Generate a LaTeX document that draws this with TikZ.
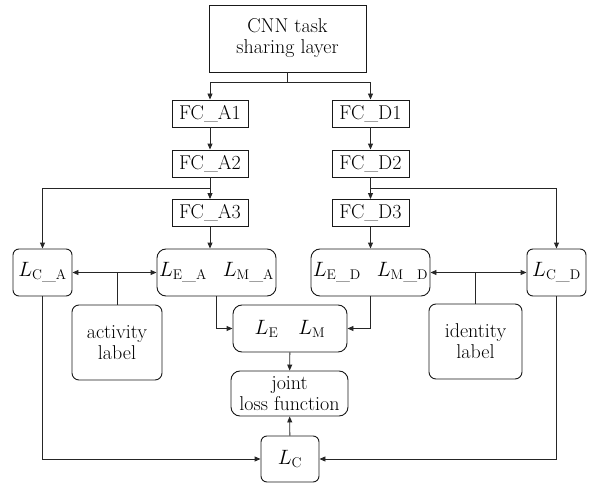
\documentclass[tikz,border=0pt]{standalone}
\usepackage{fontspec}
\usetikzlibrary{arrows.meta}
\begin{document}
\begin{tikzpicture}[x=1pt,y=-1pt,
  font=\fontsize{20}{21}\selectfont,
  box/.style={draw=black!90, line width=0.9pt, inner sep=0pt, align=center, fill=white},
  rbox/.style={box, rounded corners=6pt},
  ln/.style={draw=black!85, line width=0.9pt},
  arr/.style={ln, -{Triangle[length=6pt,width=5pt]}},
  dbl/.style={ln, {Triangle[length=6pt,width=5pt]}-{Triangle[length=6pt,width=5pt]}}
]
\useasboundingbox (0,0) rectangle (595,487);

\node[box, minimum width=157pt, minimum height=67pt] (cnn) at (287.5,38.5) {CNN task\\sharing layer};

\node[box, minimum width=76pt, minimum height=27pt] (fa1) at (210,113.5) {FC\_A1};
\node[box, minimum width=76pt, minimum height=27pt] (fa2) at (210,163.5) {FC\_A2};
\node[box, minimum width=76pt, minimum height=27pt] (fa3) at (210,213) {FC\_A3};
\node[box, minimum width=77pt, minimum height=27pt] (fd1) at (370.5,113.5) {FC\_D1};
\node[box, minimum width=77pt, minimum height=27pt] (fd2) at (370.5,163.5) {FC\_D2};
\node[box, minimum width=77pt, minimum height=27pt] (fd3) at (370.5,213) {FC\_D3};

\node[rbox, minimum width=59pt, minimum height=47pt] (lca) at (42.5,272.5) {$L_{\mathrm{C\_A}}$};
\node[rbox, minimum width=119pt, minimum height=47pt, rounded corners=9pt] (lea) at (216.5,272.5) {$L_{\mathrm{E\_A}}$\hspace{16pt}$L_{\mathrm{M\_A}}$};
\node[rbox, minimum width=119pt, minimum height=47pt, rounded corners=9pt] (led) at (370.5,272.5) {$L_{\mathrm{E\_D}}$\hspace{16pt}$L_{\mathrm{M\_D}}$};
\node[rbox, minimum width=59pt, minimum height=47pt] (lcd) at (556.5,272.5) {$L_{\mathrm{C\_D}}$};

\node[rbox, minimum width=90pt, minimum height=75pt, rounded corners=7pt] (act) at (117,342.5) {activity\\label};
\node[rbox, minimum width=93pt, minimum height=75pt, rounded corners=7pt] (idn) at (475.5,341.5) {identity\\label};

\node[rbox, minimum width=114pt, minimum height=47pt, rounded corners=9pt] (lem) at (290,328.5) {$L_{\mathrm{E}}$\hspace{20pt}$L_{\mathrm{M}}$};
\node[rbox, minimum width=117pt, minimum height=45pt, rounded corners=9pt] (joint) at (289.5,393.5) {joint\\loss function};
\node[rbox, minimum width=58pt, minimum height=46pt] (lc) at (290,459) {$L_{\mathrm{C}}$};

\coordinate (j0) at (287.5,82);
\coordinate (ba) at (210,188);
\coordinate (bd) at (370.5,188);

\draw[ln] (cnn.south) -- (j0);
\draw[arr] (j0) -| (fa1.north);
\draw[arr] (j0) -| (fd1.north);
\draw[arr] (fa1) -- (fa2);
\draw[arr] (fa2) -- (fa3);
\draw[arr] (fd1) -- (fd2);
\draw[arr] (fd2) -- (fd3);
\draw[arr] (fa3.south) -- (fa3.south |- lea.north);
\draw[arr] (fd3.south) -- (fd3.south |- led.north);
\draw[arr] (ba) -| (lca.north);
\draw[arr] (bd) -| (lcd.north);

\draw[dbl] (lca.east) -- (lea.west);
\draw[ln] (act.north) -- (act.north |- lca.east);
\draw[dbl] (led.east) -- (lcd.west);
\draw[ln] (idn.north) -- (idn.north |- led.east);

\draw[arr] (lea.south) |- (lem.west);
\draw[arr] (led.south) |- (lem.east);
\draw[arr] (lem) -- (joint);
\draw[arr] (lc) -- (joint);
\draw[arr] (lca.south) |- (lc.west);
\draw[arr] (lcd.south) |- (lc.east);
\end{tikzpicture}
\end{document}
